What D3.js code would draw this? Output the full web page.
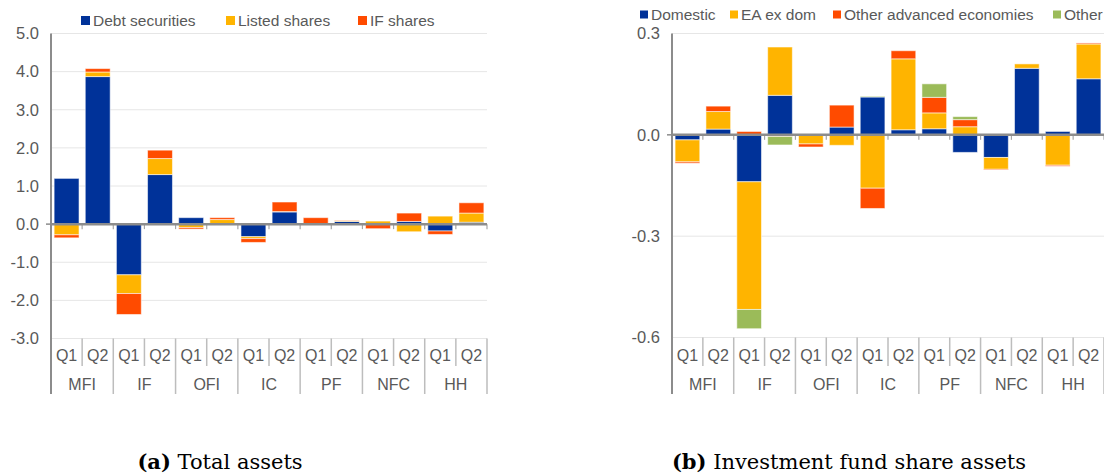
<!DOCTYPE html>
<html>
<head>
<meta charset="utf-8">
<script src="https://cdn.jsdelivr.net/npm/d3@7"></script>
<style>
  body { margin: 0; background: #fff; }
  svg { display: block; }
  .tickLabel, .legendText, .catLabel { font-family: "Liberation Sans", Arial, sans-serif; font-size: 15.5px; fill: #595959; }
  .tickLabel { font-size: 16.5px; }
  .catLabel { font-size: 16px; }
  .caption { font-family: "DejaVu Serif", serif; font-size: 21px; fill: #000; }
</style>
</head>
<body>
<script>
// sectors and quarters along the category axis
const sectors = ["MFI", "IF", "OFI", "IC", "PF", "NFC", "HH"];
const quarters = ["Q1", "Q2"];

// (a) total assets, one value per sector/quarter
const totalKeys = ["Debt securities", "Listed shares", "IF shares"];
const debtSecurities = [1.20, 3.87, -1.33, 1.30, 0.17, 0.00, -0.33, 0.32, 0.01, 0.07, 0.00, 0.07, -0.18, 0.05];
const listedShares   = [-0.28, 0.12, -0.49, 0.42, -0.09, 0.12, -0.05, 0.01, 0.00, 0.02, 0.08, -0.20, 0.21, 0.24];
const ifShares       = [-0.08, 0.09, -0.55, 0.22, -0.04, 0.05, -0.10, 0.25, 0.16, 0.01, -0.12, 0.22, -0.09, 0.27];
const totalTicks = [-3, -2, -1, 0, 1, 2, 3, 4, 5];

// (b) investment fund share assets
const fundKeys = ["Domestic", "EA ex dom", "Other advanced economies", "Other"];
const domestic = [-0.015, 0.017, -0.139, 0.117, 0.000, 0.023, 0.112, 0.015, 0.018, -0.052, -0.067, 0.197, 0.010, 0.166];
const eaExDom  = [-0.065, 0.052, -0.378, 0.143, -0.027, -0.031, -0.158, 0.210, 0.047, 0.024, -0.035, 0.013, -0.090, 0.103];
const otherAdv = [-0.004, 0.016, 0.010, -0.005, -0.009, 0.065, -0.060, 0.024, 0.046, 0.021, -0.002, 0.000, -0.003, 0.003];
const otherEco = [0.000, 0.000, -0.057, -0.025, 0.000, 0.000, 0.002, 0.000, 0.040, 0.009, 0.000, 0.000, 0.000, 0.000];
const fundTicks = [-0.6, -0.3, 0, 0.3];

const colors = ["#003299", "#FFB400", "#FF4B00", "#9BBB59"];

const svg = d3.select("body")
    .append("svg")
    .attr("width", 1104)
    .attr("height", 475);

// build row objects from the arrays
function buildRows(keys, series) {
    let rows = [];
    sectors.forEach((s, i) => {
        quarters.forEach((q, j) => {
            let idx = i * quarters.length + j;
            let row = { id: s + "-" + q, sector: s, quarter: q };
            keys.forEach((k, n) => { row[k] = series[n][idx]; });
            rows.push(row);
        });
    });
    return rows;
}

function drawChart(opt) {
    const g = svg.append("g");
    const rows = buildRows(opt.keys, opt.series);

    const x = d3.scaleBand()
        .domain(rows.map(d => d.id))
        .range([opt.left, opt.right])
        .paddingInner(0.2)
        .paddingOuter(0.1);

    const y = d3.scaleLinear()
        .domain(opt.domain)
        .range([opt.bottom, opt.top]);

    // gridlines
    g.append("g")
        .selectAll("line")
        .data(opt.ticks.filter(t => t !== 0))
        .enter()
        .append("line")
        .attr("x1", opt.left)
        .attr("x2", opt.right)
        .attr("y1", d => y(d))
        .attr("y2", d => y(d))
        .attr("stroke", "#e6e6e6")
        .attr("stroke-width", 1);

    // tick labels
    g.append("g")
        .attr("transform", "translate(" + opt.left + ",0)")
        .call(d3.axisLeft(y).tickValues(opt.ticks).tickSize(0).tickPadding(12).tickFormat(d => d.toFixed(1)))
        .call(a => a.select(".domain").remove())
        .selectAll("text")
        .attr("class", "tickLabel")
        .attr("font-family", null)
        .attr("font-size", null)
        .attr("fill", null);

    // stacked bars, positives up and negatives down
    const stacked = d3.stack()
        .keys(opt.keys)
        .offset(d3.stackOffsetDiverging)(rows);

    g.append("g")
        .selectAll("g")
        .data(stacked)
        .enter()
        .append("g")
        .attr("fill", (d, i) => colors[i])
        .selectAll("rect")
        .data(d => d)
        .enter()
        .append("rect")
        .attr("x", d => x(d.data.id))
        .attr("width", x.bandwidth())
        .attr("y", d => y(d[1]))
        .attr("height", d => Math.abs(y(d[0]) - y(d[1])))
        .attr("stroke", "#fff")
        .attr("stroke-opacity", 0.55)
        .attr("stroke-width", 1);

    // category axis separators
    const step = x.step();
    const edge = i => opt.left + i * step;
    const y0 = y(0);

    g.append("g")
        .selectAll("line")
        .data(d3.range(1, rows.length + 1))
        .enter()
        .append("line")
        .attr("x1", d => edge(d))
        .attr("x2", d => edge(d))
        .attr("y1", opt.bottom)
        .attr("y2", d => d % 2 === 0 ? 394 : 366)
        .attr("stroke", "#bdbdbd")
        .attr("stroke-width", 1.5);

    // small ticks on zero line
    g.append("g")
        .selectAll("line")
        .data(d3.range(1, rows.length + 1))
        .enter()
        .append("line")
        .attr("x1", d => edge(d))
        .attr("x2", d => edge(d))
        .attr("y1", y0)
        .attr("y2", y0 + 5)
        .attr("stroke", "#a6a6a6")
        .attr("stroke-width", 1.2);

    // quarter labels
    g.append("g")
        .selectAll("text")
        .data(rows)
        .enter()
        .append("text")
        .attr("class", "catLabel")
        .attr("x", d => x(d.id) + x.bandwidth() / 2)
        .attr("y", 355)
        .attr("dy", "0.35em")
        .attr("text-anchor", "middle")
        .text(d => d.quarter);

    // sector labels
    g.append("g")
        .selectAll("text")
        .data(sectors)
        .enter()
        .append("text")
        .attr("class", "catLabel")
        .attr("x", (d, i) => edge(i * 2 + 1))
        .attr("y", 384)
        .attr("dy", "0.35em")
        .attr("text-anchor", "middle")
        .text(d => d);

    // zero line and y axis line
    g.append("line")
        .attr("x1", opt.left)
        .attr("x2", opt.right)
        .attr("y1", y0)
        .attr("y2", y0)
        .attr("stroke", "#8c8c8c")
        .attr("stroke-width", 2.5);

    g.append("line")
        .attr("x1", opt.left)
        .attr("x2", opt.left)
        .attr("y1", opt.top)
        .attr("y2", 394)
        .attr("stroke", "#8c8c8c")
        .attr("stroke-width", 2);

    g.append("line")
        .attr("x1", opt.left - 5)
        .attr("x2", opt.left)
        .attr("y1", y0)
        .attr("y2", y0)
        .attr("stroke", "#8c8c8c")
        .attr("stroke-width", 1.5);

    // legend
    const leg = g.append("g")
        .selectAll("g")
        .data(opt.keys)
        .enter()
        .append("g")
        .attr("transform", (d, i) => "translate(" + opt.legendX[i] + "," + opt.legendY + ")");

    leg.append("rect")
        .attr("width", opt.sq)
        .attr("height", opt.sq)
        .attr("y", -opt.sq / 2)
        .attr("fill", (d, i) => colors[i]);

    leg.append("text")
        .attr("class", "legendText")
        .attr("x", opt.sq + 3)
        .attr("y", 0)
        .attr("dy", "0.35em")
        .text(d => d);

    // caption
    const cap = svg.append("text")
        .attr("class", "caption")
        .attr("x", opt.capX)
        .attr("y", 469)
        .attr("text-anchor", "middle");
    cap.append("tspan").attr("font-weight", "bold").text(opt.capTag);
    cap.append("tspan").text(" " + opt.capText);
}

drawChart({
    keys: totalKeys,
    series: [debtSecurities, listedShares, ifShares],
    ticks: totalTicks,
    domain: [-3, 5],
    left: 51, right: 487, top: 33.5, bottom: 338.5,
    legendX: [81, 226, 358],
    legendY: 20.5,
    sq: 9,
    capX: 220, capTag: "(a)", capText: "Total assets"
});

drawChart({
    keys: fundKeys,
    series: [domestic, eaExDom, otherAdv, otherEco],
    ticks: fundTicks,
    domain: [-0.6, 0.3],
    left: 672, right: 1104, top: 33.5, bottom: 337.5,
    legendX: [640, 730, 833, 1053],
    legendY: 14.5,
    sq: 8,
    capX: 849, capTag: "(b)", capText: "Investment fund share assets"
});
</script>
</body>
</html>
